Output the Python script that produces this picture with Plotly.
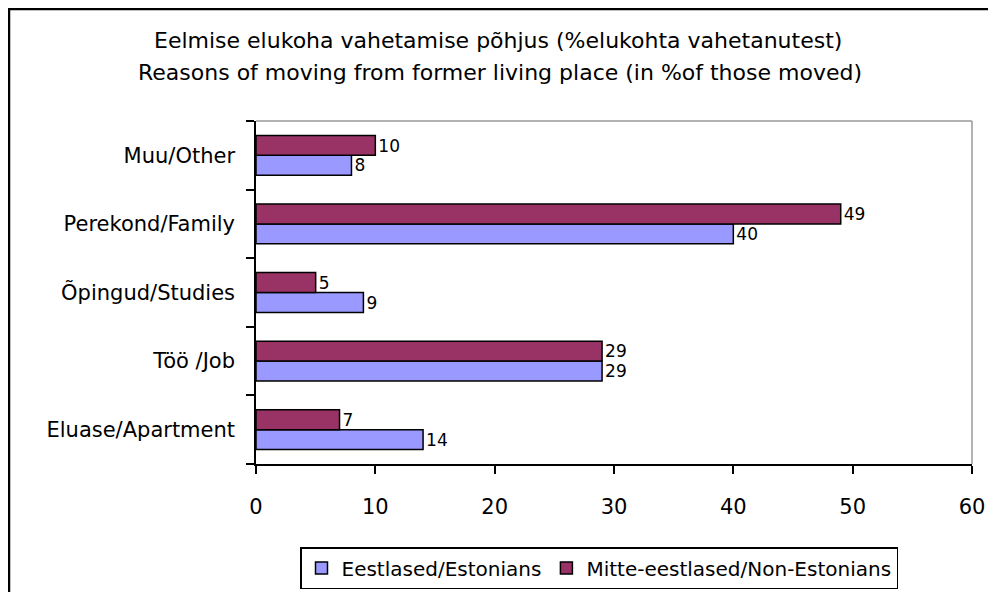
import plotly.graph_objects as go

categories = ["Eluase/Apartment", "Töö /Job", "Õpingud/Studies", "Perekond/Family", "Muu/Other"]
estonians = [14, 29, 9, 40, 8]
non_estonians = [7, 29, 5, 49, 10]
series_names = ["Eestlased/Estonians", "Mitte-eestlased/Non-Estonians"]
title_lines = ["Eelmise elukoha vahetamise põhjus (%elukohta vahetanutest)",
               "Reasons of moving from former living place (in %of those moved)"]
x_ticks = [0, 10, 20, 30, 40, 50, 60]

FONT = "DejaVu Sans"

# page has an 8px body margin; work in page pixels and convert
OFF = 8
W, H = 988, 584
L, T = 256 - OFF, 121 - OFF
pw, ph = 716, 343
R = W - L - pw
B = H - T - ph

def px(x):
    return (x - OFF - L) / pw

def py(y):
    return (T + ph - (y - OFF)) / ph

fig = go.Figure()
fig.add_trace(go.Bar(
    y=categories, x=estonians, orientation="h", name=series_names[0],
    marker=dict(color="#9999FF", line=dict(color="black", width=1.5)),
    text=[str(v) for v in estonians], textposition="outside",
    textfont=dict(family=FONT, size=18, color="black"), cliponaxis=False,
))
fig.add_trace(go.Bar(
    y=categories, x=non_estonians, orientation="h", name=series_names[1],
    marker=dict(color="#993366", line=dict(color="black", width=1.5)),
    text=[str(v) for v in non_estonians], textposition="outside",
    textfont=dict(family=FONT, size=18, color="black"), cliponaxis=False,
))

fig.update_layout(
    width=W, height=H,
    margin=dict(l=L, r=R, t=T, b=B, autoexpand=False),
    paper_bgcolor="white", plot_bgcolor="white",
    barmode="group", bargap=0.42, bargroupgap=0,
    font=dict(family=FONT, size=21, color="black"),
    showlegend=True,
    legend=dict(
        orientation="h", x=px(599), xanchor="center", y=py(547), yanchor="top",
        bordercolor="black", borderwidth=1.5, bgcolor="white",
        font=dict(family=FONT, size=20, color="black"),
        tracegroupgap=0,
    ),
    xaxis=dict(
        range=[0, 60], tickvals=x_ticks, ticktext=[str(v) for v in x_ticks],
        showgrid=False, zeroline=False, showline=True, linecolor="black", linewidth=1.5,
        ticks="outside", ticklen=8, tickwidth=1.5, tickcolor="black",
        ticklabelstandoff=15, tickfont=dict(family=FONT, size=21),
        fixedrange=True,
    ),
    yaxis=dict(
        type="category", categoryorder="array", categoryarray=categories,
        showgrid=False, zeroline=False, showline=True, linecolor="black", linewidth=1.5,
        ticks="outside", tickson="boundaries", ticklen=8, tickwidth=1.5, tickcolor="black",
        ticklabelstandoff=15, tickfont=dict(family=FONT, size=21),
        fixedrange=True,
    ),
    shapes=[
        dict(type="line", xref="paper", yref="paper", x0=0, x1=1, y0=1, y1=1,
             line=dict(color="#999999", width=1.5)),
        dict(type="line", xref="paper", yref="paper", x0=1, x1=1, y0=0, y1=1,
             line=dict(color="#999999", width=1.5)),
        dict(type="line", xref="paper", yref="paper", x0=px(9), x1=px(9), y0=py(8), y1=py(640),
             line=dict(color="black", width=2.5)),
        dict(type="line", xref="paper", yref="paper", x0=px(8), x1=px(1040), y0=py(9), y1=py(9),
             line=dict(color="black", width=2.5)),
    ],
    annotations=[
        dict(text=title_lines[0], xref="paper", yref="paper", x=px(498), y=py(41),
             xanchor="center", yanchor="middle", showarrow=False,
             font=dict(family=FONT, size=22, color="black")),
        dict(text=title_lines[1], xref="paper", yref="paper", x=px(500), y=py(72),
             xanchor="center", yanchor="middle", showarrow=False,
             font=dict(family=FONT, size=22, color="black")),
    ],
)

fig.write_html("out.html")
